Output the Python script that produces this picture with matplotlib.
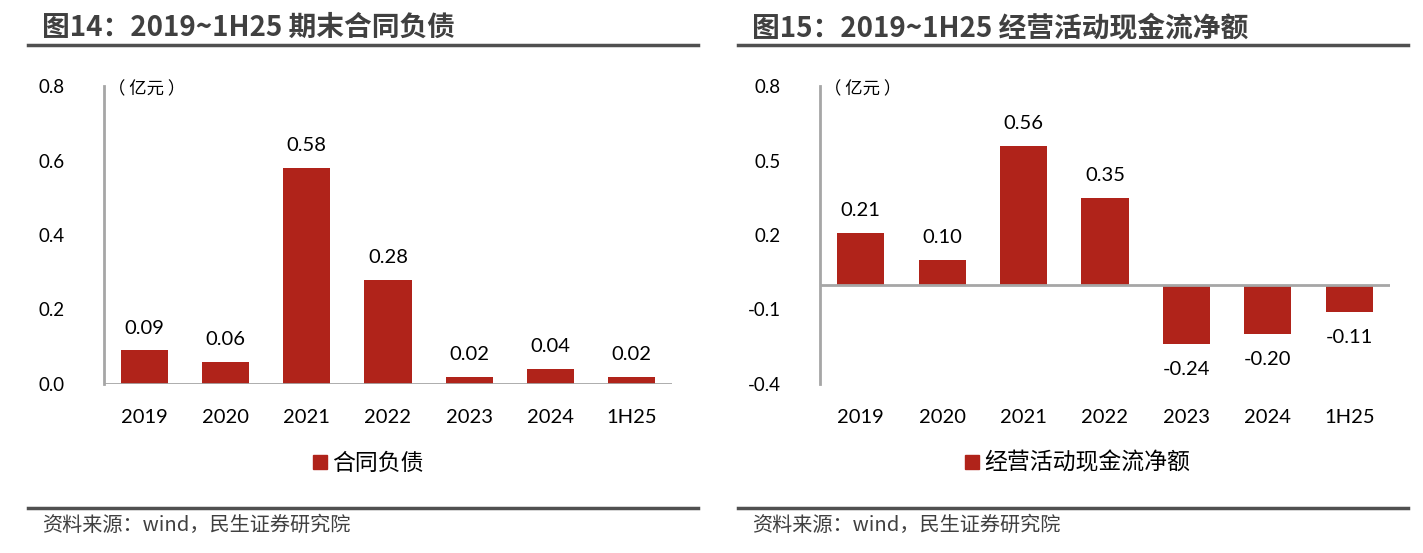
import matplotlib
matplotlib.use("Agg")
import matplotlib.pyplot as plt
from matplotlib.lines import Line2D
from matplotlib.patches import Rectangle

plt.rcParams['font.family'] = ['Lato', 'Noto Sans CJK SC', 'DejaVu Sans']

CATEGORIES = ['2019', '2020', '2021', '2022', '2023', '2024', '1H25']
CONTRACT_LIAB = [0.09, 0.06, 0.58, 0.28, 0.02, 0.04, 0.02]
OP_CASHFLOW = [0.21, 0.10, 0.56, 0.35, -0.24, -0.20, -0.11]

LEFT_TITLE = '图14：2019~1H25 期末合同负债'
RIGHT_TITLE = '图15：2019~1H25 经营活动现金流净额'
LEFT_LEGEND = '合同负债'
RIGHT_LEGEND = '经营活动现金流净额'
SOURCE = '资料来源：wind，民生证券研究院'
UNIT = '（ 亿元 ）'

LEFT_TICKS = [0.0, 0.2, 0.4, 0.6, 0.8]
RIGHT_TICKS = [-0.4, -0.1, 0.2, 0.5, 0.8]

BAR_COLOR = '#B0231A'
AXIS_COLOR = '#A6A6A6'
TITLE_COLOR = '#404040'
RULE_COLOR = '#505050'

W, H = 1423, 553
fig = plt.figure(figsize=(W / 100, H / 100), dpi=100)


def fx(px):
    return px / W


def fy(py):
    return 1 - py / H


def panel(x0, ax_left, ax_right, values, ticks, ylim, title, legend, legend_x):
    # title + rules
    fig.text(fx(x0 + 14), fy(28), title, fontsize=20, fontweight='bold',
             color=TITLE_COLOR, va='center', ha='left',
             family=['Noto Sans CJK SC'])
    fig.add_artist(Line2D([fx(x0), fx(x0 + 670)], [fy(45), fy(45)],
                          color=RULE_COLOR, lw=2.5))
    fig.add_artist(Line2D([fx(x0), fx(x0 + 670)], [fy(508), fy(508)],
                          color=RULE_COLOR, lw=2.5))
    fig.text(fx(x0 + 14), fy(525), SOURCE, fontsize=14.5, color=TITLE_COLOR,
             va='center', ha='left', family=['Noto Sans CJK SC'])

    ax = fig.add_axes([fx(ax_left), fy(384), fx(ax_right - ax_left), fy(86) - fy(384)])
    x = range(len(CATEGORIES))
    ax.bar(x, values, width=0.58, color=BAR_COLOR, zorder=2)
    ax.set_xlim(-0.5, len(CATEGORIES) - 0.5)
    ax.set_ylim(*ylim)
    ax.set_yticks(ticks)
    ax.set_yticklabels([f'{t:.1f}' for t in ticks], fontsize=13.5)
    ax.set_xticks(list(x))
    ax.set_xticklabels(CATEGORIES, fontsize=14.5)
    ax.tick_params(axis='y', length=0, pad=28)
    ax.tick_params(axis='x', length=0, pad=18)
    for s in ['top', 'right', 'bottom']:
        ax.spines[s].set_visible(False)
    ax.spines['left'].set_color(AXIS_COLOR)
    ax.spines['left'].set_linewidth(2)
    ax.axhline(0, color=AXIS_COLOR, lw=2, zorder=3)
    ax.patch.set_alpha(0)

    for i, v in enumerate(values):
        if v >= 0:
            ax.annotate(f'{v:.2f}', (i, v), xytext=(0, 10), textcoords='offset points',
                        ha='center', va='bottom', fontsize=14.5)
        else:
            ax.annotate(f'{v:.2f}', (i, v), xytext=(0, -12), textcoords='offset points',
                        ha='center', va='top', fontsize=14.5)

    fig.text(fx(ax_left + 4), fy(89), UNIT, fontsize=12.5, ha='left', va='center',
             family=['Noto Sans CJK SC'], fontweight='light')

    # legend
    fig.add_artist(Rectangle((fx(legend_x), fy(469)), fx(14), fy(455) - fy(469),
                             color=BAR_COLOR))
    fig.text(fx(legend_x + 19), fy(463), legend, fontsize=16.5, ha='left', va='center',
             family=['Noto Sans CJK SC'], fontweight='light')
    return ax


panel(28, 104, 672, CONTRACT_LIAB, LEFT_TICKS, (0, 0.8), LEFT_TITLE, LEFT_LEGEND, 313)
panel(738, 820, 1390, OP_CASHFLOW, RIGHT_TICKS, (-0.4, 0.8), RIGHT_TITLE, RIGHT_LEGEND, 965)

fig.savefig('out.png', dpi=100)
